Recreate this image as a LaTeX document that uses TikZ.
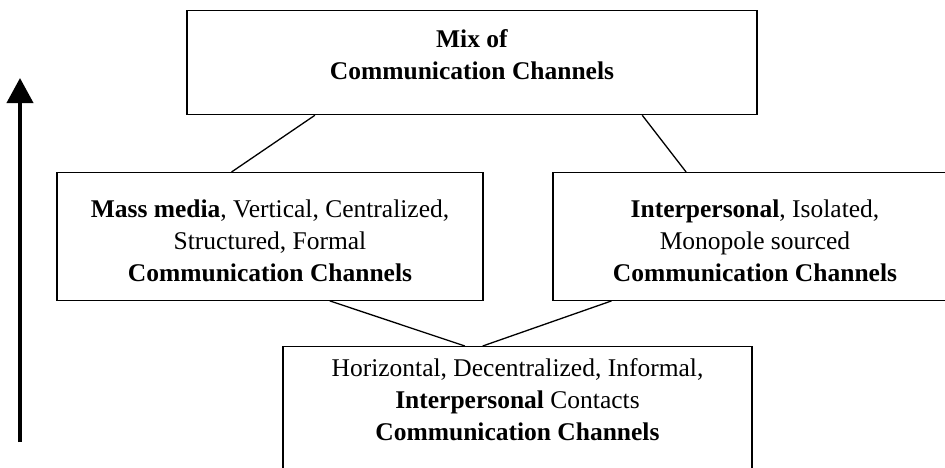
\documentclass[tikz,border=0pt]{standalone}
\usepackage{fontspec}
\setmainfont{Liberation Serif}
\usetikzlibrary{arrows.meta,calc}

\begin{document}
\begin{tikzpicture}[x=1pt, y=-1pt,
  chanbox/.style={draw, line width=1.3pt, align=center, inner xsep=0pt,
    font=\fontsize{25.5}{32}\selectfont, anchor=north},
  link/.style={line width=1.3pt}]
  \useasboundingbox (0,0) rectangle (945,467);
  % Mix of channels
  \node[chanbox, minimum width=570pt, inner ysep=19pt, text depth=16pt] (mix) at (472,10)
    {\textbf{Mix of}\\\textbf{Communication Channels}};
  % Mass media channels
  \node[chanbox, minimum width=426pt, inner ysep=19pt, text height=89.6pt, text depth=0pt] (mass) at (270,172)
    {\textbf{Mass media}, Vertical, Centralized,\\Structured, Formal\\\textbf{Communication Channels}};
  % Interpersonal channels
  \node[chanbox, minimum width=404pt, inner ysep=19pt, text height=89.6pt, text depth=0pt] (inter) at (755,172)
    {\textbf{Interpersonal}, Isolated,\\Monopole sourced\\\textbf{Communication Channels}};
  % Informal contacts
  \node[chanbox, minimum width=469pt, inner ysep=12pt, text depth=40pt] (contacts) at (517.5,346)
    {Horizontal, Decentralized, Informal,\\\textbf{Interpersonal} Contacts\\\textbf{Communication Channels}};
  % Links
  \draw[link] ($(mix.south west)!0.225!(mix.south east)$) -- ($(mass.north west)!0.41!(mass.north east)$);
  \draw[link] ($(mix.south west)!0.798!(mix.south east)$) -- ($(inter.north west)!0.33!(inter.north east)$);
  \draw[link] ($(mass.south west)!0.64!(mass.south east)$) -- ($(contacts.north west)!0.388!(contacts.north east)$);
  \draw[link] ($(inter.south west)!0.146!(inter.south east)$) -- ($(contacts.north west)!0.426!(contacts.north east)$);
  % Upward arrow
  \coordinate (foot) at (20,442);
  \coordinate (tip) at (20,78);
  \draw[line width=4pt, -{Triangle[length=25pt,width=26pt]}] (foot) -- (tip);
\end{tikzpicture}
\end{document}
